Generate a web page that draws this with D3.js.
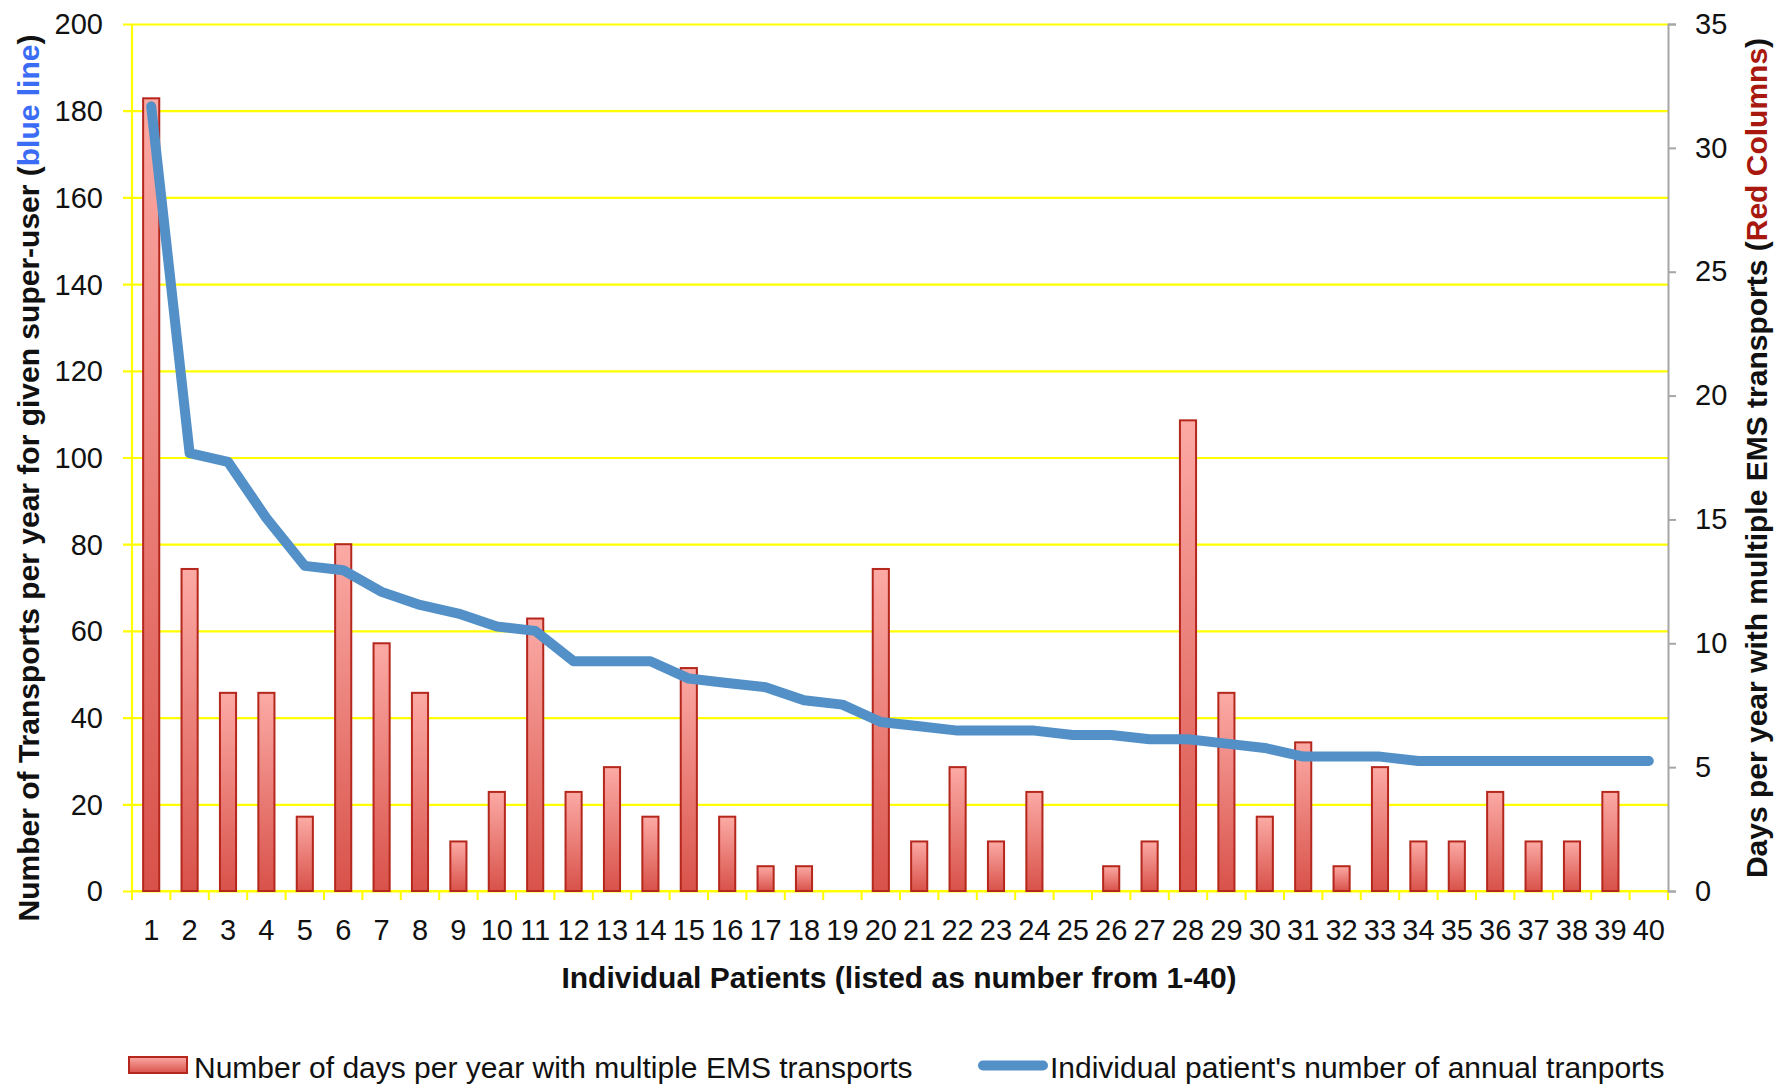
<!DOCTYPE html>
<html>
<head>
<meta charset="utf-8">
<script src="https://cdn.jsdelivr.net/npm/d3@7"></script>
<style>
  body { margin: 0; background: #fff; }
  text { font-family: "Liberation Sans", Arial, Helvetica, sans-serif; }
</style>
</head>
<body>
<div id="chart"></div>
<script>
// patients 1..40
var patients = d3.range(1, 41).map(String);

// red columns: days per year with multiple EMS transports (right axis)
var daysMultiple = [32, 13, 8, 8, 3, 14, 10, 8, 2, 4,
                    11, 4, 5, 3, 9, 3, 1, 1, 0, 13,
                    2, 5, 2, 4, 0, 1, 2, 19, 8, 3,
                    6, 1, 5, 2, 2, 4, 2, 2, 4, 0];

// blue line: annual transports per patient (left axis)
var annualTransports = [181, 101, 99, 86, 75, 74, 69, 66, 64, 61,
                        60, 53, 53, 53, 49, 48, 47, 44, 43, 39,
                        38, 37, 37, 37, 36, 36, 35, 35, 34, 33,
                        31, 31, 31, 30, 30, 30, 30, 30, 30, 30];

var leftTicks = d3.range(0, 201, 20);
var rightTicks = d3.range(0, 36, 5);

var W = 1779, H = 1084;
var margin = {top: 24, right: 111, bottom: 193, left: 132},
    width = W - margin.left - margin.right,
    height = H - margin.top - margin.bottom;

var svg = d3.select("#chart").append("svg")
    .attr("width", W)
    .attr("height", H);

var defs = svg.append("defs");
var grad = defs.append("linearGradient")
    .attr("id", "barGrad")
    .attr("x1", 0).attr("y1", 0).attr("x2", 0).attr("y2", 1);
grad.append("stop").attr("offset", "0%").attr("stop-color", "#fcaaa5");
grad.append("stop").attr("offset", "100%").attr("stop-color", "#d8524a");

var g = svg.append("g")
    .attr("transform", "translate(" + margin.left + "," + margin.top + ")");

var x = d3.scaleBand().domain(patients).range([0, width]).padding(0);
var yL = d3.scaleLinear().domain([0, 200]).range([height, 0]);
var yR = d3.scaleLinear().domain([0, 35]).range([height, 0]);

// horizontal gridlines (left axis ticks, yellow)
g.append("g")
    .attr("class", "grid")
    .attr("transform", "translate(-9,0)")
    .call(d3.axisLeft(yL).tickValues(leftTicks).tickSize(-width - 9).tickFormat(""))
    .call(function(s) {
      s.select(".domain").remove();
      s.selectAll("line").attr("stroke", "#ffff00").attr("stroke-width", 2.2);
    });

// left axis line + labels
g.append("line")
    .attr("x1", 0).attr("x2", 0).attr("y1", 0).attr("y2", height)
    .attr("stroke", "#ffff00").attr("stroke-width", 2.2);

g.selectAll(".lt")
    .data(leftTicks)
  .enter().append("text")
    .attr("x", -29)
    .attr("y", function(d) { return yL(d); })
    .attr("dy", "0.36em")
    .attr("text-anchor", "end")
    .style("font-size", "29px")
    .attr("fill", "#111")
    .text(function(d) { return d; });

// bottom axis (yellow) with ticks at band edges
var edges = d3.range(0, 41).map(function(i) { return i * x.step(); });
g.append("line")
    .attr("x1", 0).attr("x2", width).attr("y1", height).attr("y2", height)
    .attr("stroke", "#ffff00").attr("stroke-width", 2.2);
g.selectAll(".xt")
    .data(edges)
  .enter().append("line")
    .attr("x1", function(d) { return d; })
    .attr("x2", function(d) { return d; })
    .attr("y1", height).attr("y2", height + 9)
    .attr("stroke", "#ffff00").attr("stroke-width", 2);

g.selectAll(".xl")
    .data(patients)
  .enter().append("text")
    .attr("x", function(d) { return x(d) + x.bandwidth() / 2; })
    .attr("y", height + 49)
    .attr("text-anchor", "middle")
    .style("font-size", "29px")
    .attr("fill", "#111")
    .text(function(d) { return d; });

// right axis (grey)
var rightAxis = g.append("g")
    .attr("transform", "translate(" + width + ",0)")
    .call(d3.axisRight(yR).tickValues(rightTicks).tickSize(8).tickPadding(19));
rightAxis.select(".domain").attr("stroke", "#a6a6a6").attr("stroke-width", 2);
rightAxis.selectAll(".tick line").attr("stroke", "#a6a6a6").attr("stroke-width", 2);
rightAxis.selectAll(".tick text")
    .style("font-size", "29px")
    .style("font-family", "'Liberation Sans', Arial, sans-serif")
    .attr("fill", "#111");

// bars
var bw = x.bandwidth() * 0.42;
var barData = daysMultiple.map(function(v, i) { return {p: patients[i], v: v}; })
    .filter(function(d) { return d.v > 0; });
g.selectAll(".bar")
    .data(barData)
  .enter().append("rect")
    .attr("class", "bar")
    .attr("x", function(d) { return x(d.p) + (x.bandwidth() - bw) / 2; })
    .attr("y", function(d) { return yR(d.v); })
    .attr("width", bw)
    .attr("height", function(d) { return height - yR(d.v); })
    .attr("fill", "url(#barGrad)")
    .attr("stroke", "#b5261c")
    .attr("stroke-width", 2);

// blue line
var lineData = annualTransports.map(function(v, i) { return {p: patients[i], v: v}; });
var line = d3.line()
    .x(function(d) { return x(d.p) + x.bandwidth() / 2; })
    .y(function(d) { return yL(d.v); });

g.append("path")
    .datum(lineData)
    .attr("d", line)
    .attr("fill", "none")
    .attr("stroke", "#5290c7")
    .attr("stroke-width", 10)
    .attr("stroke-linejoin", "round")
    .attr("stroke-linecap", "round");

// axis titles
svg.append("text")
    .attr("x", 899)
    .attr("y", 988)
    .attr("text-anchor", "middle")
    .style("font-size", "30px")
    .style("font-weight", "bold")
    .attr("fill", "#111")
    .text("Individual Patients (listed as number from 1-40)");

var lt = svg.append("text")
    .attr("transform", "translate(39,478) rotate(-90)")
    .attr("text-anchor", "middle")
    .style("font-size", "30px")
    .style("font-weight", "bold")
    .attr("fill", "#111");
lt.append("tspan").text("Number of Transports per year for given super-user (");
lt.append("tspan").attr("fill", "#3b6cf5").text("blue line");
lt.append("tspan").text(")");

var rt = svg.append("text")
    .attr("transform", "translate(1767,458) rotate(-90)")
    .attr("text-anchor", "middle")
    .style("font-size", "30px")
    .style("font-weight", "bold")
    .attr("fill", "#111");
rt.append("tspan").text("Days per year with multiple EMS transports (");
rt.append("tspan").attr("fill", "#a8180f").text("Red Columns");
rt.append("tspan").text(")");

// legend
svg.append("rect")
    .attr("x", 129).attr("y", 1057)
    .attr("width", 58).attr("height", 16)
    .attr("fill", "url(#barGrad)")
    .attr("stroke", "#b5261c")
    .attr("stroke-width", 2);
svg.append("text")
    .attr("x", 194).attr("y", 1078)
    .style("font-size", "30px")
    .attr("fill", "#111")
    .text("Number of days per year with multiple EMS transports");

svg.append("line")
    .attr("x1", 983).attr("x2", 1043)
    .attr("y1", 1065.5).attr("y2", 1065.5)
    .attr("stroke", "#5290c7")
    .attr("stroke-width", 10)
    .attr("stroke-linecap", "round");
svg.append("text")
    .attr("x", 1050).attr("y", 1078)
    .style("font-size", "30px")
    .attr("fill", "#111")
    .text("Individual patient's number of annual tranports");
</script>
</body>
</html>
